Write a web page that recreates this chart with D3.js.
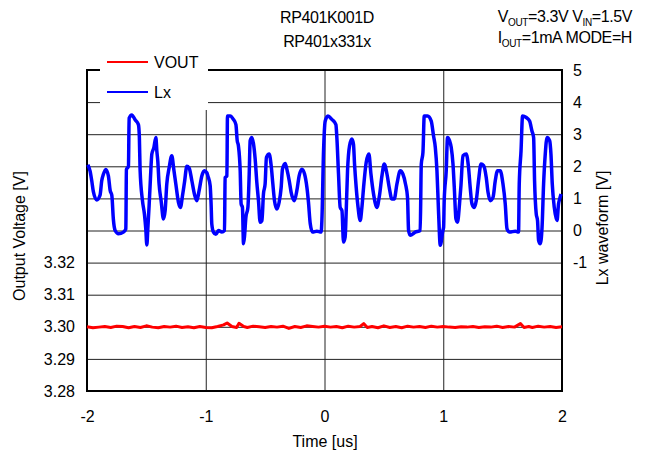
<!DOCTYPE html>
<html lang="en">
<meta charset="utf-8">
<style>
  body { margin: 0; background: #fff; }
  text { font-family: "Liberation Sans", Arial, sans-serif; fill: #000; }
  .axis path { display: none; }
  .grid path { display: none; }
  .grid line { stroke: #222; stroke-width: 1px; }
  .line { fill: none; stroke-linejoin: round; }
</style>
<script src="https://d3js.org/d3.v7.min.js"></script>
<body>
<div id="chart"></div>
<script>
// Lx waveform [V] against time [us]
const lxTime = [-1.993,-1.974,-1.960,-1.946,-1.918,-1.890,-1.876,-1.862,-1.842,-1.820,-1.805,-1.791,-1.778,-1.763,-1.735,-1.693,-1.673,-1.668,-1.651,-1.645,-1.623,-1.595,-1.567,-1.559,-1.553,-1.533,-1.516,-1.505,-1.496,-1.488,-1.477,-1.466,-1.454,-1.437,-1.420,-1.412,-1.404,-1.393,-1.376,-1.356,-1.342,-1.328,-1.308,-1.286,-1.269,-1.252,-1.230,-1.213,-1.196,-1.179,-1.159,-1.140,-1.117,-1.095,-1.075,-1.056,-1.033,-1.011,
  -0.991,-0.982,-0.963,-0.955,-0.949,-0.935,-0.915,-0.893,-0.864,-0.842,-0.837,-0.822,-0.817,-0.794,-0.767,-0.746,-0.735,-0.725,-0.710,-0.702,-0.691,-0.682,-0.674,-0.662,-0.645,-0.634,-0.626,-0.612,-0.598,-0.584,-0.570,-0.556,-0.542,-0.527,-0.514,-0.500,-0.489,-0.466,-0.449,-0.435,-0.421,-0.401,-0.382,-0.365,-0.354,-0.331,-0.317,-0.297,-0.281,-0.253,-0.233,-0.213,-0.190,-0.168,-0.148,-0.135,-0.120,-0.101,-0.064,-0.028,-0.022,-0.008,
  0.006,0.029,0.062,0.096,0.104,0.118,0.132,0.147,0.160,0.174,0.183,0.194,0.211,0.231,0.244,0.253,0.267,0.281,0.301,0.315,0.329,0.351,0.374,0.391,0.413,0.441,0.463,0.484,0.503,0.526,0.545,0.568,0.587,0.610,0.638,0.660,0.682,0.699,0.708,0.722,0.764,0.806,0.815,0.829,0.840,0.868,0.899,0.918,0.933,0.947,0.960,0.975,0.997,
  1.003,1.008,1.025,1.036,1.053,1.067,1.082,1.093,1.107,1.120,1.137,1.149,1.166,1.194,1.213,1.227,1.242,1.261,1.278,1.297,1.318,1.340,1.362,1.377,1.396,1.419,1.438,1.457,1.480,1.503,1.522,1.537,1.559,1.607,1.634,1.640,1.655,1.668,1.699,1.727,1.747,1.761,1.769,1.783,1.794,1.803,1.817,1.832,1.845,1.859,1.874,1.896,1.907,1.918,1.935,1.958,1.971,1.980,1.992]
const lxVolt = [2.05,1.85,1.55,1.2,0.95,1.1,1.55,1.75,1.9,1.7,1.25,1.1,0.35,0.0,-0.1,-0.05,0.05,1.9,2.0,3.5,3.6,3.45,3.3,2.9,1.9,0.93,0.5,0.05,-0.45,0.05,0.77,1.6,2.38,2.58,2.9,2.48,2.17,1.45,0.93,0.36,0.62,1.45,1.96,2.33,1.9,1.45,0.88,0.72,1.08,1.5,2.0,1.95,1.55,1.13,0.93,1.24,1.7,1.86,
  1.8,1.7,1.4,0.83,0.2,-0.05,-0.12,0.0,-0.05,0.0,1.65,1.7,3.57,3.57,3.46,3.3,2.8,2.64,1.86,0.83,0.72,-0.41,-0.2,0.41,0.72,1.76,2.8,2.9,2.7,2.23,1.5,0.93,0.26,0.31,1.14,1.45,2.28,2.38,2.02,1.45,0.93,0.67,0.88,1.34,1.91,2.09,1.91,1.55,1.19,0.93,1.24,1.71,1.91,1.76,1.34,0.88,0.21,-0.05,-0.02,-0.05,0.31,2.48,
  3.41,3.57,3.46,3.3,2.9,1.76,0.72,0.62,-0.36,-0.2,0.62,1.86,2.64,2.85,2.69,2.07,1.34,0.78,0.31,0.72,1.34,2.12,2.38,1.76,1.14,0.72,1.09,1.71,2.07,1.76,1.34,0.98,0.98,1.45,1.86,1.76,1.45,1.03,0.0,-0.15,-0.05,0.0,2.07,2.43,3.57,3.57,3.41,2.95,2.59,1.86,0.62,-0.46,0.0,
  0.1,0.93,1.86,2.9,2.8,2.59,2.07,1.34,0.36,0.26,0.83,1.4,2.33,2.38,1.96,1.34,0.83,0.72,0.93,1.55,2.07,2.02,1.65,1.19,0.93,1.03,1.55,1.86,1.86,1.45,0.83,0.05,-0.05,-0.02,-0.05,1.45,2.48,3.57,3.52,3.41,3.1,2.9,1.55,0.52,0.31,-0.31,-0.41,0.1,1.45,2.38,2.9,2.8,2.38,1.45,0.72,0.31,0.83,0.98,1.14]

// VOUT [V] against time [us]
const voTime = [-2.00,-1.95,-1.90,-1.85,-1.80,-1.75,-1.70,-1.65,-1.60,-1.55,-1.50,-1.45,-1.40,-1.35,-1.30,-1.25,-1.20,-1.15,-1.10,-1.05,-1.00,-0.95,-0.90,-0.85,-0.82,-0.78,-0.74,-0.72,-0.68,-0.65,-0.60,-0.55,-0.50,-0.45,-0.40,-0.35,-0.30,-0.25,-0.20,-0.15,-0.10,-0.05,0.00,0.05,0.10,0.15,0.20,0.25,0.30,0.33,0.36,0.40,0.45,0.50,0.55,0.60,0.65,0.70,0.75,0.80,0.85,0.90,0.95,1.00,1.05,1.10,1.15,1.20,1.25,1.30,1.35,1.40,1.45,1.50,1.55,1.60,1.65,1.68,1.72,1.75,1.80,1.85,1.90,1.95,2.00]
const voVolt = [3.3000,3.2997,3.2999,3.3001,3.2998,3.3002,3.3001,3.2997,3.3001,3.2998,3.3003,3.2999,3.2997,3.3001,3.2999,3.3002,3.2998,3.3000,3.2997,3.3001,3.2998,3.2997,3.3001,3.3006,3.3012,3.3001,3.2998,3.3011,3.3001,3.2998,3.3002,3.3000,3.2998,3.3001,3.2999,3.3002,3.2995,3.3001,3.2998,3.3003,3.3001,3.2999,3.3002,3.2999,3.3001,3.2997,3.3002,3.2999,3.3001,3.3010,3.2998,3.3001,3.2997,3.3003,3.2998,3.3001,3.2997,3.3002,3.2999,3.3001,3.2998,3.3002,3.2999,3.3001,3.2999,3.2998,3.3000,3.2999,3.3001,3.2998,3.3000,3.2999,3.3002,3.2998,3.3001,3.2999,3.3010,3.2998,3.3001,3.2998,3.3002,3.2999,3.3001,3.2998,3.3000]

// tick labels
const xTicks = [-2, -1, 0, 1, 2]
const leftTicks = [3.28, 3.29, 3.30, 3.31, 3.32]
const rightTicks = [-1, 0, 1, 2, 3, 4, 5]

const MARGIN = { LEFT: 87, RIGHT: 89, TOP: 70, BOTTOM: 66 }
const WIDTH = 651 - MARGIN.LEFT - MARGIN.RIGHT
const HEIGHT = 457 - MARGIN.TOP - MARGIN.BOTTOM

const svg = d3.select("#chart").append("svg")
  .attr("width", 651)
  .attr("height", 457)

const g = svg.append("g")
  .attr("transform", `translate(${MARGIN.LEFT}, ${MARGIN.TOP})`)

// scales
const x = d3.scaleLinear().domain([-2, 2]).range([0, WIDTH])
const yL = d3.scaleLinear().domain([3.28, 3.38]).range([HEIGHT, 0])
const yR = d3.scaleLinear().domain([-5, 5]).range([HEIGHT, 0])

// grid
g.append("g").attr("class", "grid")
  .call(d3.axisLeft(yR).ticks(10).tickSize(-WIDTH).tickFormat(""))
g.append("g").attr("class", "grid")
  .attr("transform", `translate(0, ${HEIGHT})`)
  .call(d3.axisBottom(x).tickValues([-1, 0, 1]).tickSize(-HEIGHT).tickFormat(""))

// frame
g.append("rect")
  .attr("width", WIDTH)
  .attr("height", HEIGHT)
  .attr("fill", "none")
  .attr("stroke", "#000")
  .attr("stroke-width", 2)

// tick labels, plain hyphen for negatives
const plain = d => String(d)
g.append("g").attr("class", "axis")
  .attr("transform", `translate(0, ${HEIGHT})`)
  .call(d3.axisBottom(x).tickValues(xTicks).tickSize(0).tickPadding(20).tickFormat(plain))
g.append("g").attr("class", "axis")
  .call(d3.axisLeft(yL).tickValues(leftTicks).tickSize(0).tickPadding(12).tickFormat(d => d.toFixed(2)))
g.append("g").attr("class", "axis")
  .attr("transform", `translate(${WIDTH}, 0)`)
  .call(d3.axisRight(yR).tickValues(rightTicks).tickSize(0).tickPadding(11).tickFormat(plain))
g.selectAll(".axis text").attr("font-size", 16).style("font-family", "Liberation Sans, Arial, sans-serif")

// legend box (covers grid)
const legend = svg.append("g")
legend.append("rect")
  .attr("x", 100).attr("y", 52)
  .attr("width", 108).attr("height", 58)
  .attr("fill", "#fff")
const legendItems = [["VOUT", "#ff0000", 62], ["Lx", "#0000ff", 92]]
legendItems.forEach(([name, col, ly]) => {
  legend.append("line")
    .attr("x1", 107).attr("x2", 148)
    .attr("y1", ly).attr("y2", ly)
    .attr("stroke", col).attr("stroke-width", 2)
  legend.append("text")
    .attr("x", 154).attr("y", ly)
    .attr("dy", "0.35em")
    .attr("font-size", 16)
    .text(name)
})

// lines
const lxData = lxTime.map((t, i) => ({ t, v: lxVolt[i] }))
const voData = voTime.map((t, i) => ({ t, v: voVolt[i] }))

g.append("path")
  .attr("class", "line")
  .attr("stroke", "#0000ff")
  .attr("stroke-width", 3.5)
  .attr("d", d3.line().curve(d3.curveMonotoneX).x(d => x(d.t)).y(d => yR(d.v))(lxData))

g.append("path")
  .attr("class", "line")
  .attr("stroke", "#ff0000")
  .attr("stroke-width", 3)
  .attr("d", d3.line().x(d => x(d.t)).y(d => yL(d.v))(voData))

// axis titles
svg.append("text")
  .attr("x", 325).attr("y", 447)
  .attr("text-anchor", "middle")
  .attr("font-size", 16)
  .text("Time [us]")

svg.append("text")
  .attr("transform", "translate(25, 236) rotate(-90)")
  .attr("text-anchor", "middle")
  .attr("font-size", 16)
  .text("Output Voltage [V]")

svg.append("text")
  .attr("transform", "translate(608, 228) rotate(-90)")
  .attr("text-anchor", "middle")
  .attr("font-size", 16)
  .text("Lx waveform [V]")

// titles
svg.append("text")
  .attr("x", 327).attr("y", 23)
  .attr("text-anchor", "middle")
  .attr("font-size", 16)
  .attr("letter-spacing", -0.4)
  .text("RP401K001D")
svg.append("text")
  .attr("x", 327).attr("y", 47)
  .attr("text-anchor", "middle")
  .attr("font-size", 16)
  .attr("letter-spacing", -0.4)
  .text("RP401x331x")

const cond1 = svg.append("text")
  .attr("x", 632).attr("y", 22)
  .attr("text-anchor", "end")
  .attr("font-size", 16)
  .attr("letter-spacing", -0.4)
cond1.append("tspan").text("V")
cond1.append("tspan").attr("font-size", 10).attr("dy", 4).text("OUT")
cond1.append("tspan").attr("dy", -4).text("=3.3V V")
cond1.append("tspan").attr("font-size", 10).attr("dy", 4).text("IN")
cond1.append("tspan").attr("dy", -4).text("=1.5V")

const cond2 = svg.append("text")
  .attr("x", 632).attr("y", 43)
  .attr("text-anchor", "end")
  .attr("font-size", 16)
  .attr("letter-spacing", -0.4)
cond2.append("tspan").text("I")
cond2.append("tspan").attr("font-size", 10).attr("dy", 4).text("OUT")
cond2.append("tspan").attr("dy", -4).text("=1mA MODE=H")
</script>
</body>
</html>
